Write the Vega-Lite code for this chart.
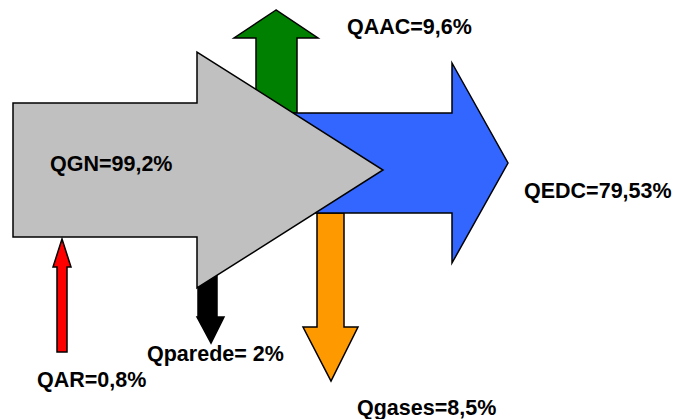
{
  "$schema": "https://vega.github.io/schema/vega-lite/v6.json",
  "width": 674,
  "height": 419,
  "autosize": {"type": "none"},
  "padding": 0,
  "background": "white",
  "config": {"view": {"stroke": null}},
  "layer": [
    {
      "data": {"values": [
        {"arrow": "AAC", "c": "#008000", "y": 10, "x": 276, "x2": 276},
        {"arrow": "AAC", "c": "#008000", "y": 38, "x": 234, "x2": 318},
        {"arrow": "AAC", "c": "#008000", "y": 38, "x": 256, "x2": 297},
        {"arrow": "AAC", "c": "#008000", "y": 113, "x": 256, "x2": 297},
        {"arrow": "gases", "c": "#FF9900", "y": 213, "x": 317, "x2": 344},
        {"arrow": "gases", "c": "#FF9900", "y": 327, "x": 317, "x2": 344},
        {"arrow": "gases", "c": "#FF9900", "y": 327, "x": 303, "x2": 358},
        {"arrow": "gases", "c": "#FF9900", "y": 381, "x": 331, "x2": 331},
        {"arrow": "parede", "c": "#000000", "y": 270, "x": 198, "x2": 217},
        {"arrow": "parede", "c": "#000000", "y": 317, "x": 198, "x2": 217},
        {"arrow": "parede", "c": "#000000", "y": 317, "x": 197, "x2": 224},
        {"arrow": "parede", "c": "#000000", "y": 343, "x": 211, "x2": 211}
      ]},
      "mark": {"type": "area", "orient": "horizontal", "stroke": "black", "strokeWidth": 1.5, "strokeJoin": "miter"},
      "encoding": {
        "y": {"field": "y", "type": "quantitative", "scale": {"domain": [0, 419], "reverse": true, "nice": false, "zero": false}, "axis": null},
        "x": {"field": "x", "type": "quantitative", "scale": {"domain": [0, 674], "nice": false, "zero": false}, "axis": null, "stack": null},
        "x2": {"field": "x2"},
        "detail": {"field": "arrow"},
        "fill": {"field": "c", "type": "nominal", "scale": null}
      }
    },
    {
      "data": {"values": [
        {"arrow": "EDC", "c": "#3366FF", "x": 290, "y": 113, "y2": 213},
        {"arrow": "EDC", "c": "#3366FF", "x": 452, "y": 113, "y2": 213},
        {"arrow": "EDC", "c": "#3366FF", "x": 452, "y": 63, "y2": 263},
        {"arrow": "EDC", "c": "#3366FF", "x": 508, "y": 163, "y2": 163}
      ]},
      "mark": {"type": "area", "orient": "vertical", "stroke": "black", "strokeWidth": 1.5, "strokeJoin": "miter"},
      "encoding": {
        "x": {"field": "x", "type": "quantitative", "axis": null},
        "y": {"field": "y", "type": "quantitative", "axis": null, "stack": null},
        "y2": {"field": "y2"},
        "detail": {"field": "arrow"},
        "fill": {"field": "c", "type": "nominal", "scale": null}
      }
    },
    {
      "data": {"values": [
        {"arrow": "GN", "c": "#C0C0C0", "x": 13, "y": 103, "y2": 237},
        {"arrow": "GN", "c": "#C0C0C0", "x": 197, "y": 103, "y2": 237},
        {"arrow": "GN", "c": "#C0C0C0", "x": 197, "y": 52, "y2": 288},
        {"arrow": "GN", "c": "#C0C0C0", "x": 383, "y": 170, "y2": 170}
      ]},
      "mark": {"type": "area", "orient": "vertical", "stroke": "black", "strokeWidth": 1.5, "strokeJoin": "miter"},
      "encoding": {
        "x": {"field": "x", "type": "quantitative", "axis": null},
        "y": {"field": "y", "type": "quantitative", "axis": null, "stack": null},
        "y2": {"field": "y2"},
        "detail": {"field": "arrow"},
        "fill": {"field": "c", "type": "nominal", "scale": null}
      }
    },
    {
      "data": {"values": [
        {"arrow": "AR", "c": "#FF0000", "y": 239, "x": 62, "x2": 62},
        {"arrow": "AR", "c": "#FF0000", "y": 267, "x": 53, "x2": 71},
        {"arrow": "AR", "c": "#FF0000", "y": 267, "x": 57, "x2": 67},
        {"arrow": "AR", "c": "#FF0000", "y": 352, "x": 57, "x2": 67}
      ]},
      "mark": {"type": "area", "orient": "horizontal", "stroke": "black", "strokeWidth": 1.5, "strokeJoin": "miter"},
      "encoding": {
        "y": {"field": "y", "type": "quantitative", "axis": null},
        "x": {"field": "x", "type": "quantitative", "axis": null, "stack": null},
        "x2": {"field": "x2"},
        "detail": {"field": "arrow"},
        "fill": {"field": "c", "type": "nominal", "scale": null}
      }
    },
    {
      "data": {"values": [
        {"label": "QGN=99,2%", "x": 50, "y": 171},
        {"label": "QAAC=9,6%", "x": 347, "y": 34},
        {"label": "QEDC=79,53%", "x": 524, "y": 198},
        {"label": "Qparede= 2%", "x": 147, "y": 361},
        {"label": "QAR=0,8%", "x": 37, "y": 387},
        {"label": "Qgases=8,5%", "x": 357, "y": 415}
      ]},
      "mark": {"type": "text", "align": "left", "baseline": "alphabetic", "font": "Liberation Sans", "fontWeight": "bold", "fontSize": 21.5, "color": "black"},
      "encoding": {
        "x": {"field": "x", "type": "quantitative", "axis": null},
        "y": {"field": "y", "type": "quantitative", "axis": null},
        "text": {"field": "label"}
      }
    }
  ]
}
